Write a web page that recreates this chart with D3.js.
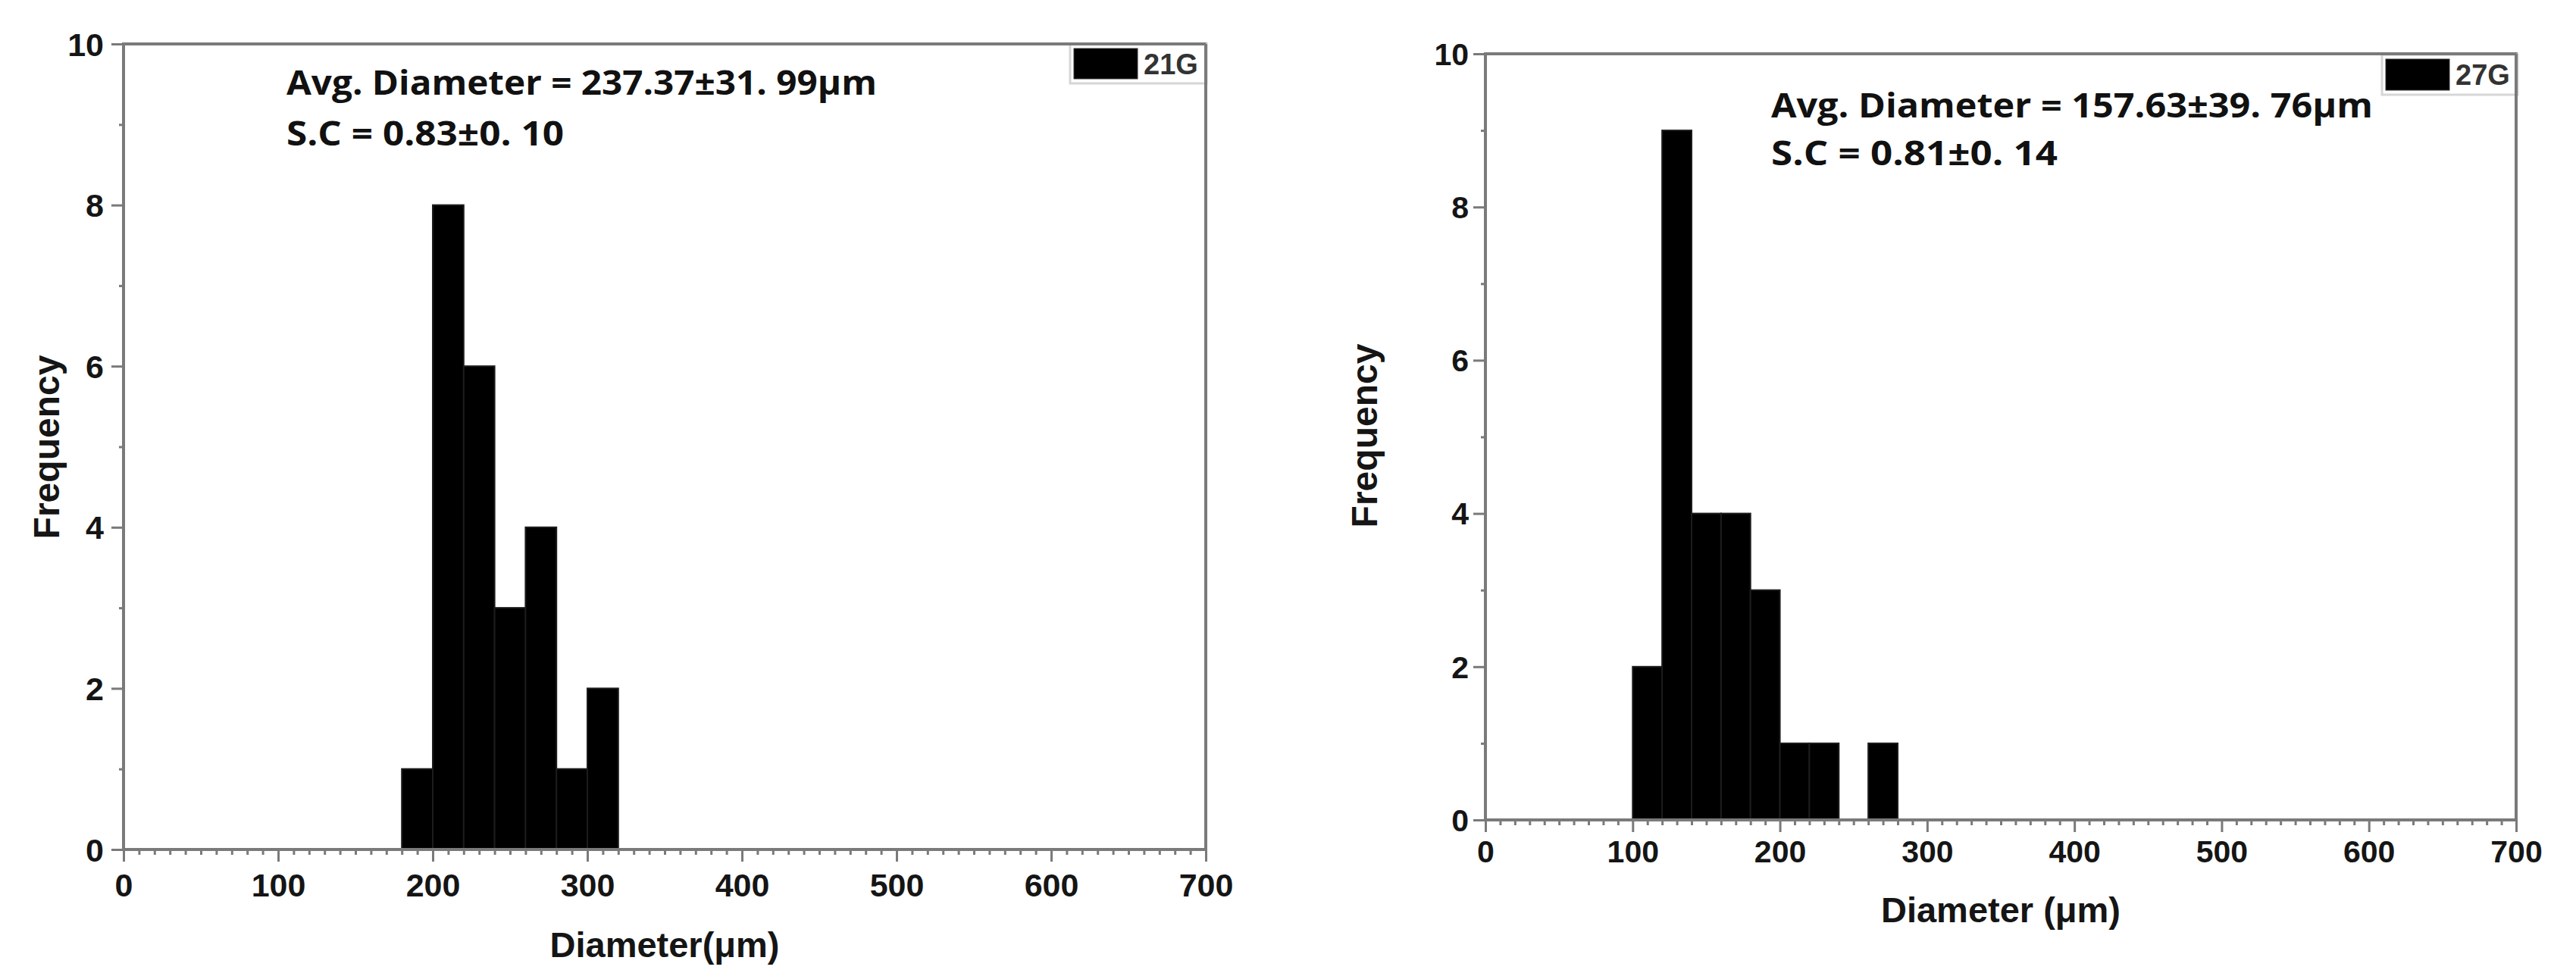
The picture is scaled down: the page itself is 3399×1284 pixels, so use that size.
<!DOCTYPE html>
<html>
<head>
<meta charset="utf-8">
<script src="https://cdn.jsdelivr.net/npm/d3@7"></script>
<style>
  html, body { margin: 0; padding: 0; background: #fff; }
  svg { display: block; }
</style>
</head>
<body>
<svg id="chart" width="3399" height="1284"></svg>
<script>
// ---------- data ----------
const xTickValues = [0, 100, 200, 300, 400, 500, 600, 700];
const yTickValues = [0, 2, 4, 6, 8, 10];
const binWidth = 20;

const binStarts21G = [180, 200, 220, 240, 260, 280, 300];
const counts21G    = [1, 8, 6, 3, 4, 1, 2];

const binStarts27G = [100, 120, 140, 160, 180, 200, 220, 240, 260];
const counts27G    = [2, 9, 4, 4, 3, 1, 1, 0, 1];

const seriesNames = ["21G", "27G"];
const annotLine1 = ["Avg. Diameter = 237.37", "Avg. Diameter = 157.63"];
const annotLine1b = ["±31. 99μm", "±39. 76μm"];
const annotLine2 = ["S.C = 0.83±0. 10", "S.C = 0.81±0. 14"];
const xTitles = ["Diameter(μm)", "Diameter (μm)"];
const yTitle = "Frequency";

// ---------- layout ----------
const panels = [
  { name: seriesNames[0], starts: binStarts21G, counts: counts21G,
    left: 163, right: 1591, top: 58, bottom: 1121,
    tickFont: 43, labelOff: 62, yLabelGap: 26, xTitleY: 1263, yTitleX: 78, yTitleY: 590,
    ann: { x: 378, y1: 125, y2: 192, w1: 779, w2: 366 },
    leg: { x: 1412, y: 58, w: 180, h: 52 } },
  { name: seriesNames[1], starts: binStarts27G, counts: counts27G,
    left: 1960, right: 3320, top: 71, bottom: 1082,
    tickFont: 41, labelOff: 56, yLabelGap: 22, xTitleY: 1217, yTitleX: 1817, yTitleY: 575,
    ann: { x: 2337, y1: 155, y2: 218, w1: 794, w2: 378 },
    leg: { x: 3143, y: 72, w: 179, h: 53 } }
];

const svg = d3.select("#chart");
const font = "'Liberation Sans', Arial, sans-serif";
const axisGray = "#7a7a7a";
const textDark = "#151515";

panels.forEach((p, i) => {
  const x = d3.scaleLinear().domain([0, 700]).range([p.left, p.right]);
  const y = d3.scaleLinear().domain([0, 10]).range([p.bottom, p.top]);
  const g = svg.append("g");

  // bars
  const bins = p.starts.map((s, k) => ({ x0: s, x1: s + binWidth, n: p.counts[k] })).filter(d => d.n > 0);
  g.selectAll("rect.bar").data(bins).join("rect")
    .attr("class", "bar")
    .attr("x", d => x(d.x0))
    .attr("y", d => y(d.n))
    .attr("width", d => x(d.x1) - x(d.x0))
    .attr("height", d => y(0) - y(d.n))
    .attr("fill", "#000")
    .attr("stroke", "#1c1c1c")
    .attr("stroke-width", 2);

  // minor x ticks
  const minorX = d3.range(0, 701, 10).filter(v => v % 100 !== 0);
  const gxm = g.append("g").attr("transform", `translate(0,${p.bottom})`)
    .call(d3.axisBottom(x).tickValues(minorX).tickSize(7).tickFormat(""));
  // major x ticks
  const gx = g.append("g").attr("transform", `translate(0,${p.bottom})`)
    .call(d3.axisBottom(x).tickValues(xTickValues).tickSize(16).tickPadding(p.labelOff - 16 - p.tickFont * 0.72));
  // minor y ticks
  const minorY = d3.range(1, 10, 2);
  const gym = g.append("g").attr("transform", `translate(${p.left},0)`)
    .call(d3.axisLeft(y).tickValues(minorY).tickSize(6).tickFormat(""));
  // major y ticks
  const gy = g.append("g").attr("transform", `translate(${p.left},0)`)
    .call(d3.axisLeft(y).tickValues(yTickValues).tickSize(16).tickPadding(p.yLabelGap - 16));

  [gxm, gx, gym, gy].forEach(a => {
    a.select(".domain").remove();
    a.selectAll(".tick line").attr("stroke", axisGray).attr("stroke-width", 3);
  });
  gx.selectAll(".tick text").attr("font-family", font).attr("font-weight", "bold")
    .attr("font-size", p.tickFont).attr("fill", textDark).attr("dy", "0.72em");
  gy.selectAll(".tick text").attr("font-family", font).attr("font-weight", "bold")
    .attr("font-size", p.tickFont).attr("fill", textDark).attr("dy", "0.35em");

  // frame
  g.append("rect")
    .attr("x", x(0)).attr("y", y(10))
    .attr("width", x(700) - x(0)).attr("height", y(0) - y(10))
    .attr("fill", "none").attr("stroke", axisGray).attr("stroke-width", 4);

  // axis titles
  g.append("text")
    .attr("x", (x(0) + x(700)) / 2).attr("y", p.xTitleY)
    .attr("text-anchor", "middle")
    .attr("font-family", font).attr("font-weight", "bold").attr("font-size", 47)
    .attr("fill", textDark).text(xTitles[i]);
  g.append("text")
    .attr("transform", `translate(${p.yTitleX},${p.yTitleY}) rotate(-90)`)
    .attr("text-anchor", "middle")
    .attr("font-family", font).attr("font-weight", "bold").attr("font-size", 48)
    .attr("fill", textDark).text(yTitle);

  // annotation
  const annFont = "'Open Sans', 'Noto Sans', sans-serif";
  const t1 = g.append("text")
    .attr("x", p.ann.x).attr("y", p.ann.y1)
    .attr("font-family", annFont).attr("font-weight", "bold").attr("font-size", 45)
    .attr("fill", "#111")
    .attr("textLength", p.ann.w1).attr("lengthAdjust", "spacingAndGlyphs");
  t1.append("tspan").text(annotLine1[i]);
  t1.append("tspan").text(annotLine1b[i]);
  g.append("text")
    .attr("x", p.ann.x).attr("y", p.ann.y2)
    .attr("font-family", annFont).attr("font-weight", "bold").attr("font-size", 45)
    .attr("fill", "#111")
    .attr("textLength", p.ann.w2).attr("lengthAdjust", "spacingAndGlyphs")
    .text(annotLine2[i]);

  // legend
  const lg = g.append("g");
  lg.append("rect")
    .attr("x", p.leg.x).attr("y", p.leg.y).attr("width", p.leg.w).attr("height", p.leg.h)
    .attr("fill", "#fff").attr("stroke", "#d6d6d6").attr("stroke-width", 3);
  lg.append("rect")
    .attr("x", p.leg.x + 5).attr("y", p.leg.y + 6).attr("width", 84).attr("height", p.leg.h - 12)
    .attr("fill", "#000").attr("stroke", "#333").attr("stroke-width", 1);
  lg.append("text")
    .attr("x", p.leg.x + 97).attr("y", p.leg.y + 40)
    .attr("font-family", font).attr("font-weight", "bold").attr("font-size", 38)
    .attr("fill", "#333").text(p.name);
  // redraw frame top/right over legend border
  g.append("line").attr("x1", x(0)).attr("x2", x(700)).attr("y1", y(10)).attr("y2", y(10))
    .attr("stroke", axisGray).attr("stroke-width", 4);
  g.append("line").attr("x1", x(700)).attr("x2", x(700)).attr("y1", y(10)).attr("y2", y(0))
    .attr("stroke", axisGray).attr("stroke-width", 4);
});
</script>
</body>
</html>
